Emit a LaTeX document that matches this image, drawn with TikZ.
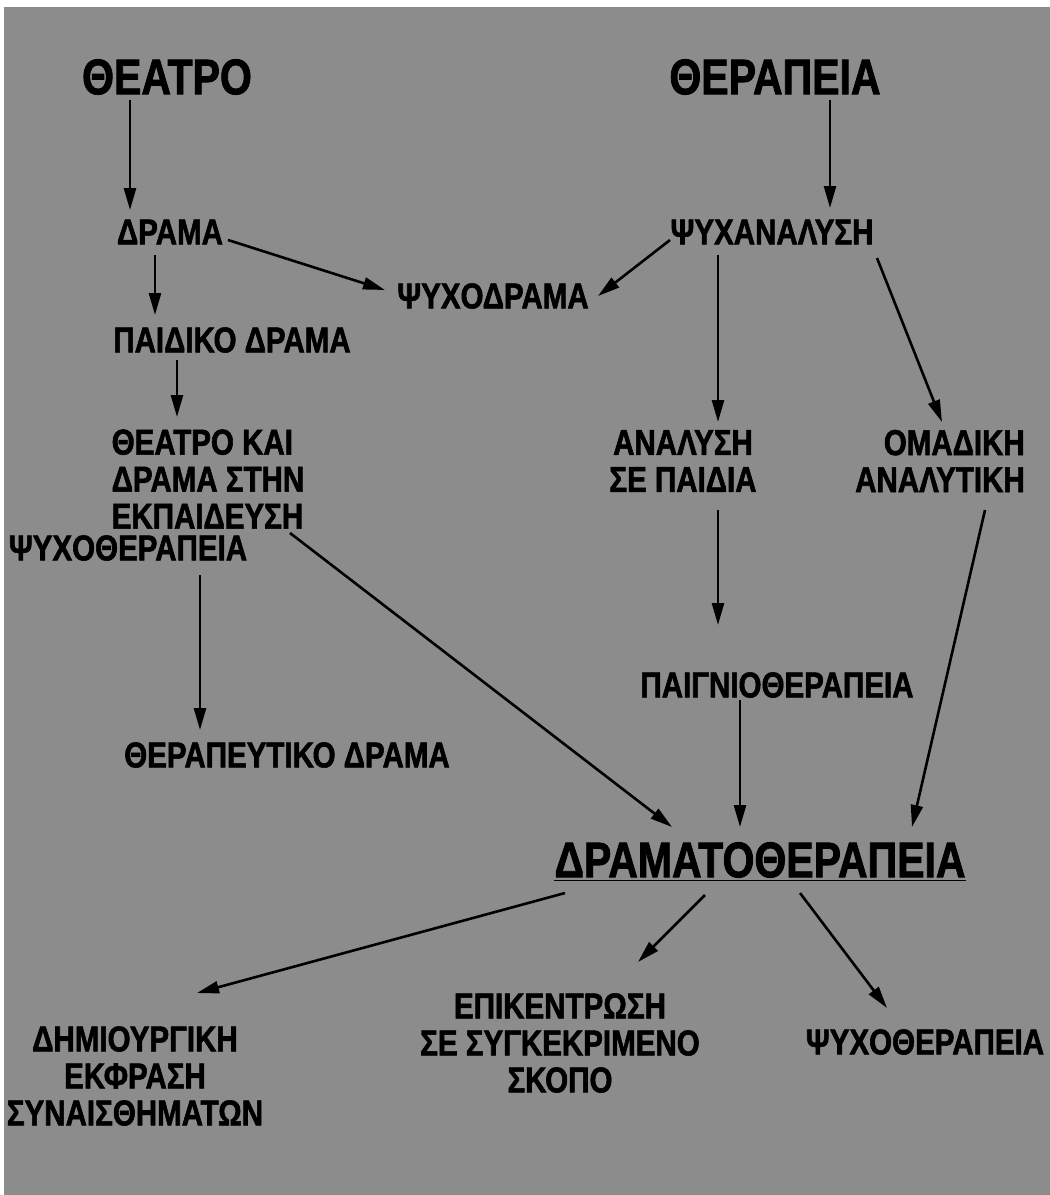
\documentclass[tikz,border=0pt]{standalone}
\usepackage{fontspec}
\setmainfont{Liberation Sans}[FakeStretch=0.82, BoldFeatures={FakeBold=1.6}]
\usetikzlibrary{arrows.meta,calc}
\definecolor{bggray}{RGB}{140,140,140}

\begin{document}
\begin{tikzpicture}[x=0.5pt, y=-0.5pt]
\tikzstyle{lbl} = [inner sep=0pt, font=\bfseries\fontsize{18}{18.5}\selectfont]
\tikzstyle{big} = [inner sep=0pt, font=\bfseries\fontsize{25}{26}\selectfont]
\tikzstyle{arrow} = [line width=1.3pt, -{Triangle[length=11pt,width=6pt]}]

% background
\useasboundingbox (0,0) rectangle (1050,1195);
\fill[white] (0,0) rectangle (1050,1195);
\fill[bggray] (4,7) rectangle (1050,1195);

% sources
\node[big] (theatro) at (167,77) {ΘΕΑΤΡΟ};
\node[big] (therapeia) at (775,77) {ΘΕΡΑΠΕΙΑ};

\node[lbl] (drama) at (170,232) {ΔΡΑΜΑ};
\node[lbl] (psychanalysi) at (772,232) {ΨΥΧΑΝΑΛΥΣΗ};
\node[lbl] (psychodrama) at (493,296) {ΨΥΧΟΔΡΑΜΑ};
\node[lbl] (paidiko) at (232,340) {ΠΑΙΔΙΚΟ ΔΡΑΜΑ};
\node[lbl, align=left] (ekpaideusi) at (208,479) {ΘΕΑΤΡΟ ΚΑΙ\\ΔΡΑΜΑ ΣΤΗΝ\\ΕΚΠΑΙΔΕΥΣΗ};
\node[lbl] (psychotherapeia) at (128,548) {ΨΥΧΟΘΕΡΑΠΕΙΑ};
\node[lbl] (therapeutiko) at (287,755) {ΘΕΡΑΠΕΥΤΙΚΟ ΔΡΑΜΑ};
\node[lbl, align=center] (analysi) at (683,461) {ΑΝΑΛΥΣΗ\\ΣΕ ΠΑΙΔΙΑ};
\node[lbl, align=right] (omadiki) at (940,461) {ΟΜΑΔΙΚΗ\\ΑΝΑΛΥΤΙΚΗ};
\node[lbl] (paignio) at (777,685) {ΠΑΙΓΝΙΟΘΕΡΑΠΕΙΑ};

% target
\node[big] (dramato) at (760,862) {\underline{ΔΡΑΜΑΤΟΘΕΡΑΠΕΙΑ}};

\node[lbl, align=center] (dimiourgiki) at (135,1076) {ΔΗΜΙΟΥΡΓΙΚΗ\\ΕΚΦΡΑΣΗ\\ΣΥΝΑΙΣΘΗΜΑΤΩΝ};
\node[lbl, align=center] (epikentrosi) at (560,1043) {ΕΠΙΚΕΝΤΡΩΣΗ\\ΣΕ ΣΥΓΚΕΚΡΙΜΕΝΟ\\ΣΚΟΠΟ};
\node[lbl] (psychotherapeia2) at (925,1042) {ΨΥΧΟΘΕΡΑΠΕΙΑ};

\draw[arrow] ($(theatro)+(-37,23)$) -- ($(drama)+(-40,-22)$);
\draw[arrow] ($(therapeia)+(55,23)$) -- ($(psychanalysi)+(58,-24)$);
\draw[arrow] ($(drama)+(58,8)$) -- ($(psychodrama)+(-108,-6)$);
\draw[arrow] ($(psychanalysi)+(-102,8)$) -- ($(psychodrama)+(105,0)$);
\draw[arrow] ($(drama)+(-15,23)$) -- ($(paidiko)+(-77,-25)$);
\draw[arrow] ($(paidiko)+(-55,20)$) -- ($(ekpaideusi)+(-31,-62)$);
\draw[arrow] ($(psychotherapeia)+(72,27)$) -- ($(therapeutiko)+(-87,-25)$);
\draw[arrow] ($(ekpaideusi)+(82,54)$) -- ($(dramato)+(-88,-35)$);
\draw[arrow] ($(psychanalysi)+(-54,23)$) -- ($(analysi)+(35,-39)$);
\draw[arrow] ($(psychanalysi)+(105,26)$) -- ($(omadiki)+(2,-39)$);
\draw[arrow] ($(analysi)+(35,49)$) -- ($(paignio)+(-59,-60)$);
\draw[arrow] ($(paignio)+(-37,15)$) -- ($(dramato)+(-20,-35)$);
\draw[arrow] ($(omadiki)+(45,49)$) -- ($(dramato)+(152,-35)$);
\draw[arrow] ($(dramato)+(-195,31)$) -- ($(dimiourgiki)+(62,-83)$);
\draw[arrow] ($(dramato)+(-55,33)$) -- ($(epikentrosi)+(78,-81)$);
\draw[arrow] ($(dramato)+(40,31)$) -- ($(psychotherapeia2)+(-38,-34)$);
\end{tikzpicture}
\end{document}
